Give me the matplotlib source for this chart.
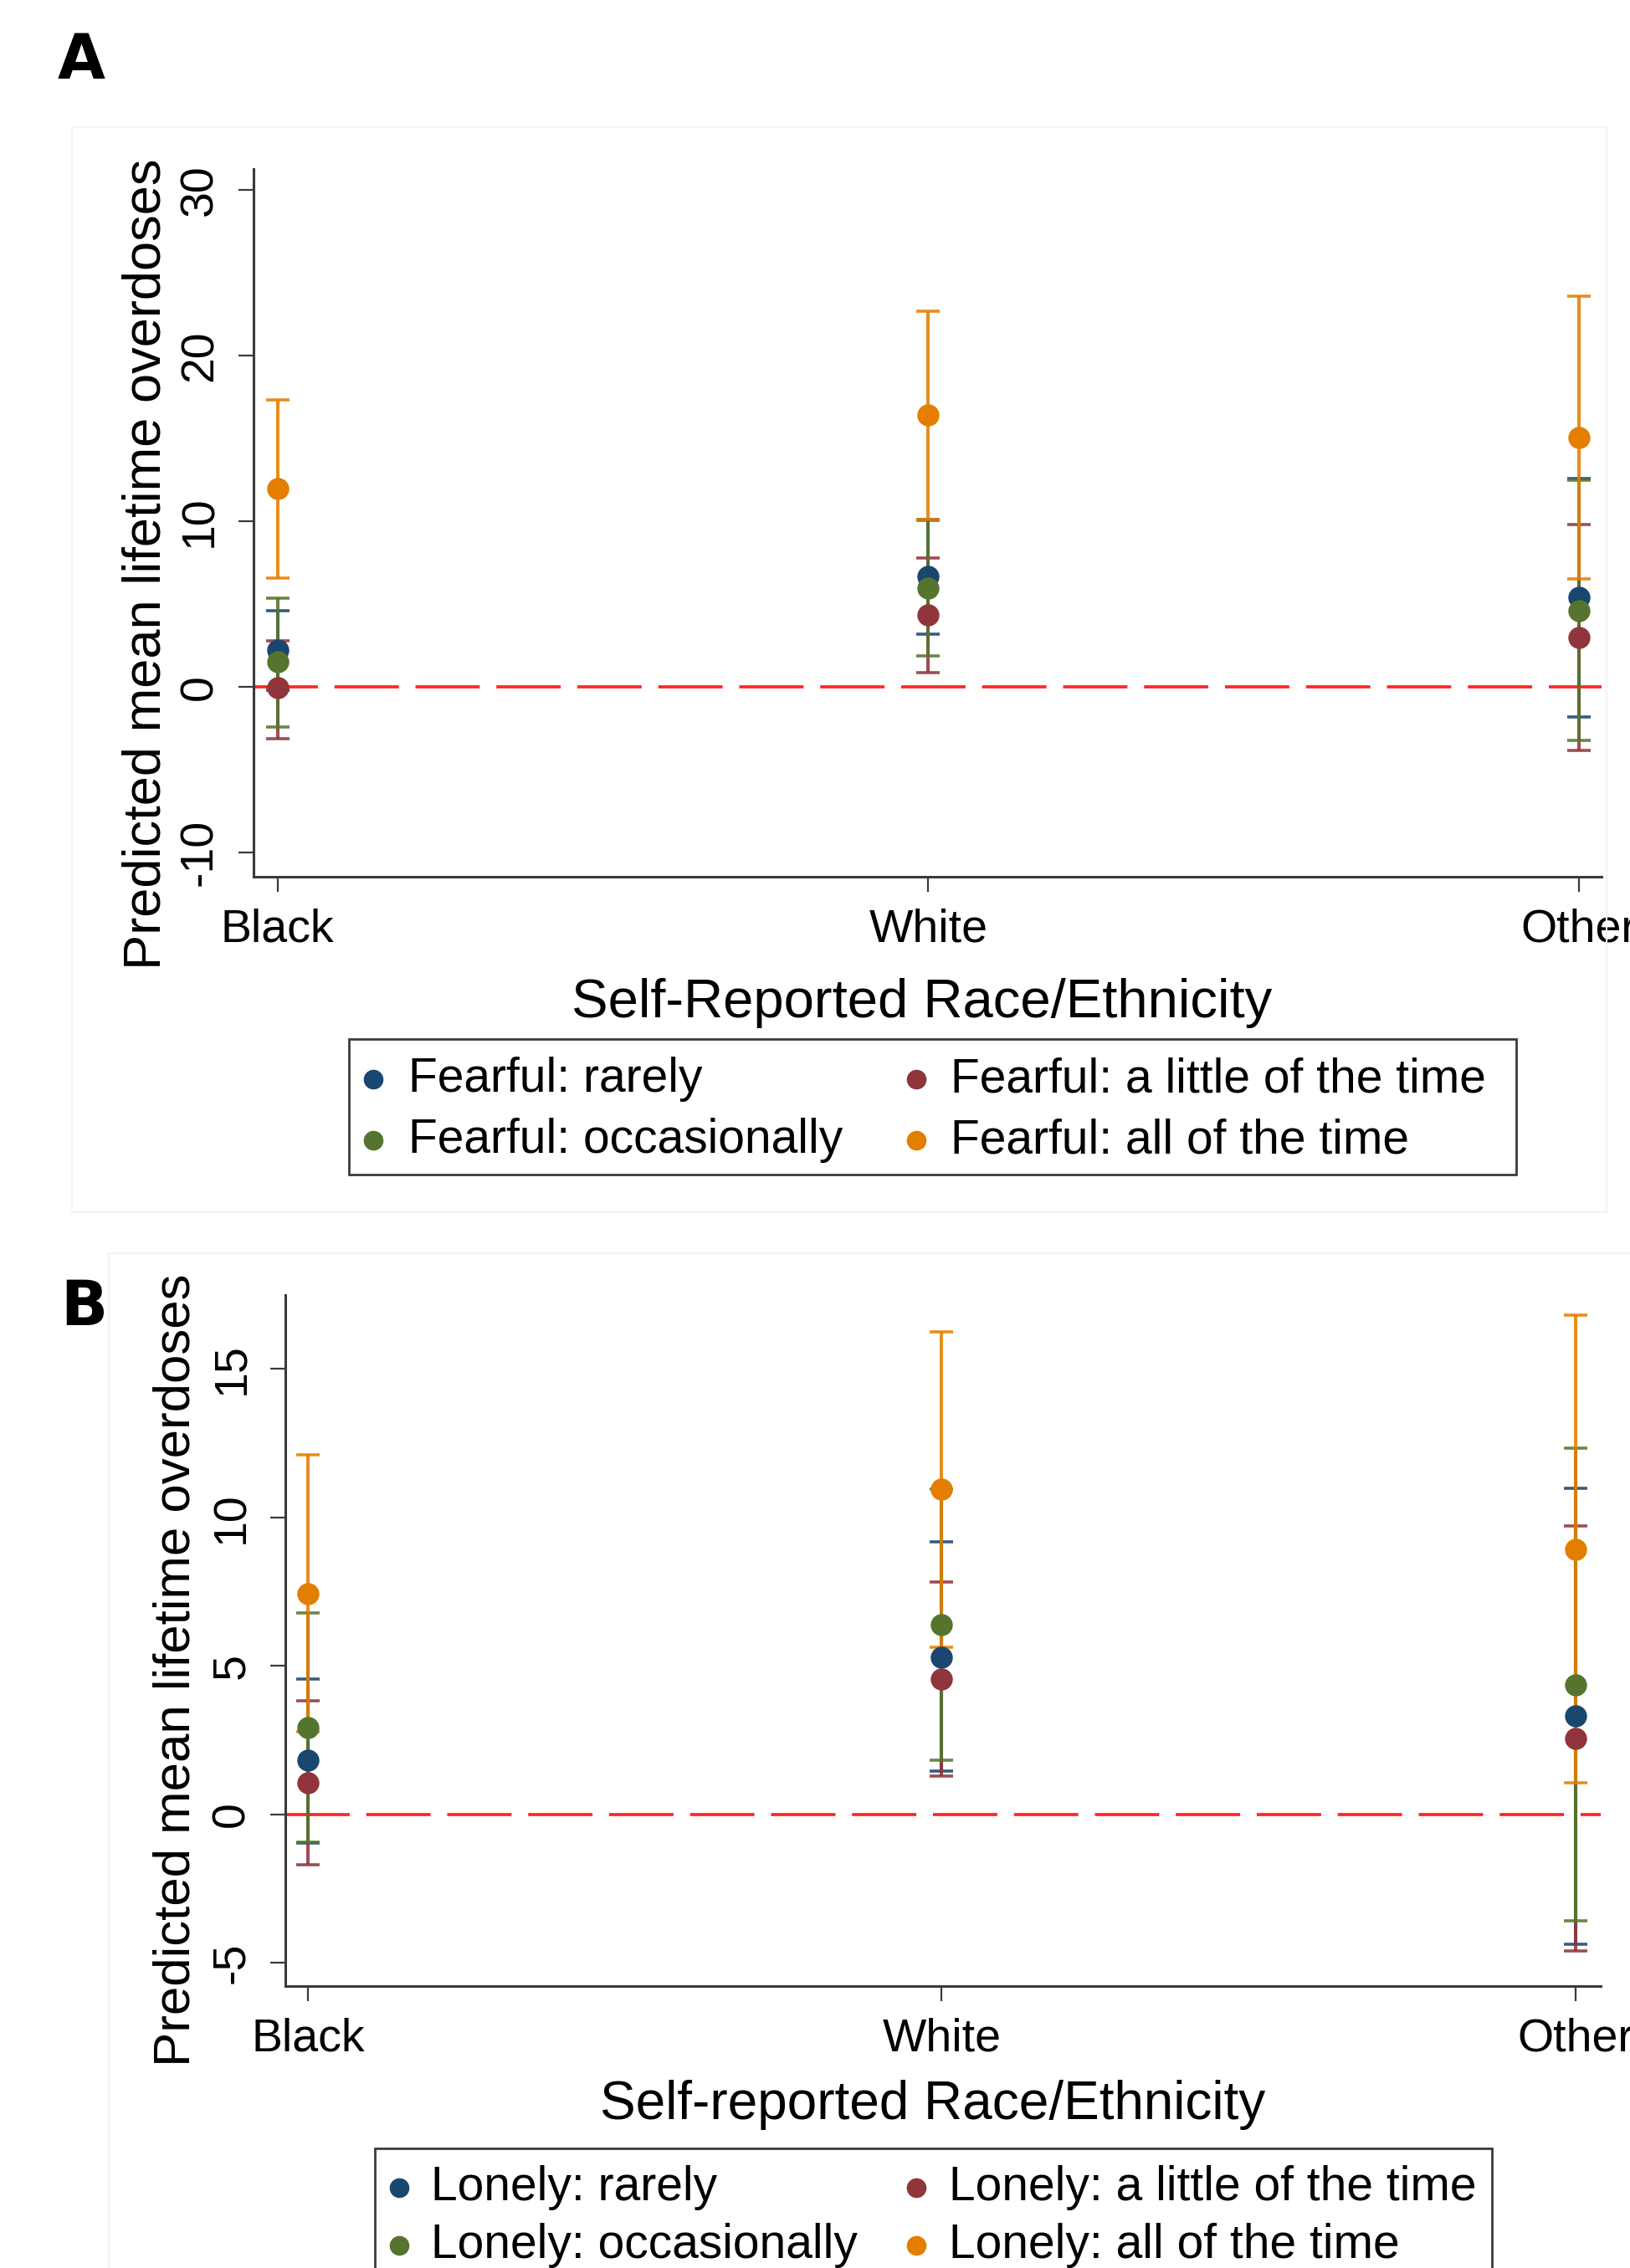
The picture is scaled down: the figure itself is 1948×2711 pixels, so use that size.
import numpy as np
import matplotlib.pyplot as plt
from matplotlib.patches import Rectangle
from matplotlib.lines import Line2D

plt.rcParams['font.family'] = ['Liberation Sans', 'DejaVu Sans']

W, H = 1949, 2711

races = ['Black', 'White', 'Other']
colors = ['#1a476f', '#90353b', '#55752f', '#e37e00']

# panel A: fearful (rows: rarely, a little, occasionally, all of the time)
fear_labels = ['Fearful: rarely', 'Fearful: a little of the time',
               'Fearful: occasionally', 'Fearful: all of the time']
fear_mean = [[2.23, 6.65, 5.39],
             [-0.06, 4.33, 2.98],
             [1.53, 5.97, 4.59],
             [11.96, 16.42, 15.06]]
fear_lo = [[-0.20, 3.21, -1.79],
           [-3.12, 0.85, -3.82],
           [-2.39, 1.88, -3.24],
           [6.57, 10.13, 6.54]]
fear_hi = [[4.59, 10.10, 12.60],
           [2.78, 7.77, 9.78],
           [5.38, 10.05, 12.46],
           [17.31, 22.70, 23.59]]

# panel B: lonely
lone_labels = ['Lonely: rarely', 'Lonely: a little of the time',
               'Lonely: occasionally', 'Lonely: all of the time']
lone_mean = [[1.81, 5.30, 3.31],
             [1.05, 4.55, 2.55],
             [2.91, 6.39, 4.37],
             [7.44, 10.94, 8.93]]
lone_lo = [[-0.96, 1.44, -4.37],
           [-1.70, 1.29, -4.60],
           [-0.95, 1.83, -3.58],
           [2.77, 5.62, 1.07]]
lone_hi = [[4.56, 9.18, 10.99],
           [3.81, 7.81, 9.72],
           [6.79, 10.95, 12.34],
           [12.12, 16.26, 16.80]]

fig = plt.figure(figsize=(W / 100, H / 100), dpi=100)
fig.patch.set_facecolor('white')

AX_COL = '#3a3a3a'


def add_axes(l, t, r, b):
    return fig.add_axes([l / W, 1 - b / H, (r - l) / W, (b - t) / H])


def frame(l, t, r, b):
    fig.add_artist(Rectangle((l / W, 1 - b / H), (r - l) / W, (b - t) / H,
                             transform=fig.transFigure, fill=False,
                             ec='#f3f3f3', lw=1.5))


def draw_panel(ax, mean, lo, hi, xlim, ylim, yticks, xlabel, ylabel,
               xlab_pos, ylab_pos, title_fs):
    x = np.arange(1, len(races) + 1)
    for m, l, h, c in zip(mean, lo, hi, colors):
        m, l, h = np.array(m), np.array(l), np.array(h)
        ax.errorbar(x, m, yerr=[m - l, h - m], fmt='none', ecolor=c,
                    elinewidth=2.9, capsize=10, capthick=2.6, alpha=0.88,
                    zorder=2)
    for m, c in zip(mean, colors):
        ax.plot(x, m, 'o', color=c, ms=19, mec='none', zorder=3)
    ax.axhline(0, color='#ff2626', lw=2.7, ls=(0, (20.5, 5.3)), zorder=1)

    ax.set_xlim(*xlim)
    ax.set_ylim(*ylim)
    ax.set_xticks(x)
    ax.set_xticklabels(races)
    ax.set_yticks(yticks)
    ax.set_yticklabels([str(t) for t in yticks])
    plt.setp(ax.get_yticklabels(), rotation=90, va='center')
    for s in ['top', 'right']:
        ax.spines[s].set_visible(False)
    for s in ['left', 'bottom']:
        ax.spines[s].set_color(AX_COL)
        ax.spines[s].set_linewidth(2.2)
    ax.tick_params(direction='out', length=13, width=1.6, color=AX_COL,
                   labelsize=40, pad=14)

    ax.set_xlabel(xlabel, fontsize=title_fs)
    ax.xaxis.set_label_coords(*xlab_pos)
    ax.xaxis.label.set_va('center')
    ax.set_ylabel(ylabel, fontsize=title_fs - 1.5)
    ax.yaxis.set_label_coords(*ylab_pos)
    ax.yaxis.label.set_va('center')


def draw_legend(labels, box, rows, mark_xs, text_xs, fs=41, ms=17):
    l, t, r, b = box
    fig.add_artist(Rectangle((l / W, 1 - b / H), (r - l) / W, (b - t) / H,
                             transform=fig.transFigure, fill=False,
                             ec=AX_COL, lw=2))
    for i, (lab, c) in enumerate(zip(labels, colors)):
        row, col = divmod(i, 2)
        y = 1 - rows[row] / H
        fig.add_artist(Line2D([mark_xs[col] / W], [y], marker='o', ls='none',
                              color=c, ms=ms, mec='none',
                              transform=fig.transFigure))
        fig.text(text_xs[col] / W, y, lab, fontsize=fs, ha='left', va='center')


# panel A
frame(86, 152, 1920, 1449)
ax_a = add_axes(303, 202, 1914, 1048)
draw_panel(ax_a, fear_mean, fear_lo, fear_hi, (0.963, 3.035), (-11.45, 31.26),
           [-10, 0, 10, 20, 30], 'Self-Reported Race/Ethnicity',
           'Predicted mean lifetime overdoses', (0.496, -0.1785),
           (-0.0795, 0.442), 47)
draw_legend(fear_labels, (417, 1242, 1812, 1404), (1290, 1363),
            (446, 1095), (488, 1136))
fig.text(97 / W, 1 - 73 / H, 'A', fontsize=53, weight='bold',
         family='DejaVu Sans', ha='center', va='center')

# panel B
frame(130, 1498, 1965, 2760)
ax_b = add_axes(341, 1548, 1913, 2374)
draw_panel(ax_b, lone_mean, lone_lo, lone_hi, (0.964, 3.04), (-5.79, 17.49),
           [-5, 0, 5, 10, 15], 'Self-reported Race/Ethnicity',
           'Predicted mean lifetime overdoses', (0.492, -0.172),
           (-0.0827, 0.4576), 46)
draw_legend(lone_labels, (448, 2568, 1783, 2740), (2615, 2684),
            (477, 1095), (515, 1134))
fig.text(100 / W, 1 - 1563 / H, 'B', fontsize=53, weight='bold',
         family='DejaVu Sans', ha='center', va='center')

fig.savefig('out.png', dpi=100, facecolor='white')
